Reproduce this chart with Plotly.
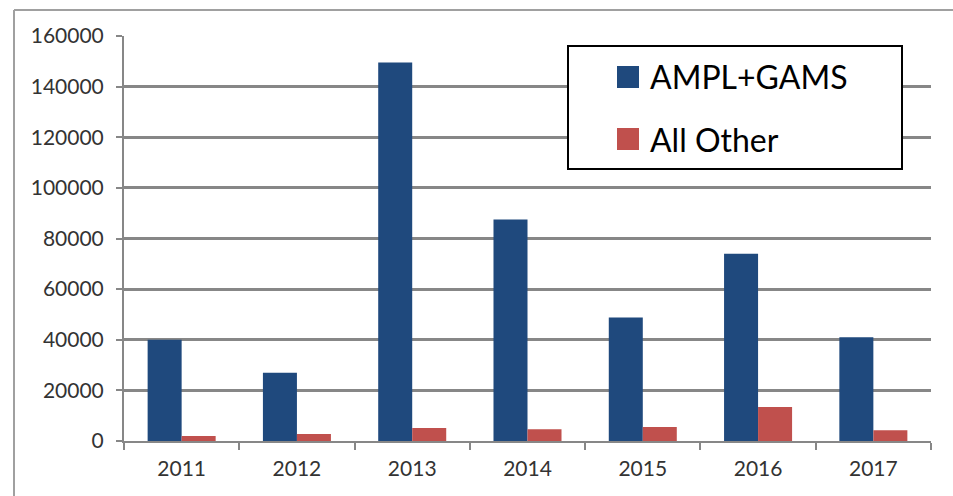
import plotly.graph_objects as go

years = ["2011", "2012", "2013", "2014", "2015", "2016", "2017"]
ampl_gams = [40000, 27000, 149500, 87500, 48800, 74000, 41000]
all_other = [2000, 2800, 5100, 4600, 5500, 13400, 4200]
series_names = ["AMPL+GAMS", "All Other"]
y_ticks = [0, 20000, 40000, 60000, 80000, 100000, 120000, 140000, 160000]

BLUE = "#1F497D"
RED = "#C0504D"
GRID = "#878787"
FONT = "Lato"

W, H = 953, 496
L, R, T, B = 124, 22, 36, 55
PW, PH = W - L - R, H - T - B


def px(x):
    return (x - L) / PW


def py(y):
    return (H - B - y) / PH


fig = go.Figure()
fig.add_trace(go.Bar(x=years, y=ampl_gams, name=series_names[0], marker_color=BLUE,
                     marker_line_width=0, showlegend=False))
fig.add_trace(go.Bar(x=years, y=all_other, name=series_names[1], marker_color=RED,
                     marker_line_width=0, showlegend=False))

shapes = [
    # outer chart frame (top and left edges)
    dict(type="line", xref="paper", yref="paper", x0=px(14), x1=px(953), y0=py(10), y1=py(10),
         line=dict(color="#a0a0a0", width=2)),
    dict(type="line", xref="paper", yref="paper", x0=px(14), x1=px(14), y0=py(10), y1=py(496),
         line=dict(color="#a0a0a0", width=2)),
    # legend box
    dict(type="rect", xref="paper", yref="paper", x0=px(568), x1=px(902), y0=py(169), y1=py(46),
         line=dict(color="black", width=2), fillcolor="white", layer="above"),
    dict(type="rect", xref="paper", yref="paper", x0=px(617), x1=px(639), y0=py(88), y1=py(66),
         line=dict(width=0), fillcolor=BLUE, layer="above"),
    dict(type="rect", xref="paper", yref="paper", x0=px(617), x1=px(639), y0=py(150), y1=py(128),
         line=dict(width=0), fillcolor=RED, layer="above"),
]

annotations = [
    dict(xref="paper", yref="paper", x=px(648), y=py(77), text=series_names[0], showarrow=False,
         xanchor="left", yanchor="middle", font=dict(family=FONT, size=32, color="black")),
    dict(xref="paper", yref="paper", x=px(648), y=py(139), text=series_names[1], showarrow=False,
         xanchor="left", yanchor="middle", font=dict(family=FONT, size=32, color="black")),
]

fig.update_layout(
    width=W, height=H,
    margin=dict(l=L, r=R, t=T, b=B),
    paper_bgcolor="white", plot_bgcolor="white",
    barmode="group", bargap=0.41, bargroupgap=0,
    shapes=shapes, annotations=annotations,
    font=dict(family=FONT, size=21, color="#333333"),
    xaxis=dict(type="category", showgrid=False, showline=True, linecolor=GRID, linewidth=2,
               ticks="outside", tickson="boundaries", ticklen=7, tickwidth=2, tickcolor=GRID,
               ticklabelstandoff=8,
               tickfont=dict(family=FONT, size=21, color="#333333")),
    yaxis=dict(range=[0, 160000], tickvals=y_ticks, showgrid=True, gridcolor=GRID, gridwidth=2.5,
               showline=True, linecolor=GRID, linewidth=2, ticks="outside", ticklen=6,
               tickwidth=2, tickcolor=GRID, zeroline=False, ticklabelstandoff=8,
               tickformat="d", tickfont=dict(family=FONT, size=21, color="#333333")),
)

fig.write_html("out.html")
